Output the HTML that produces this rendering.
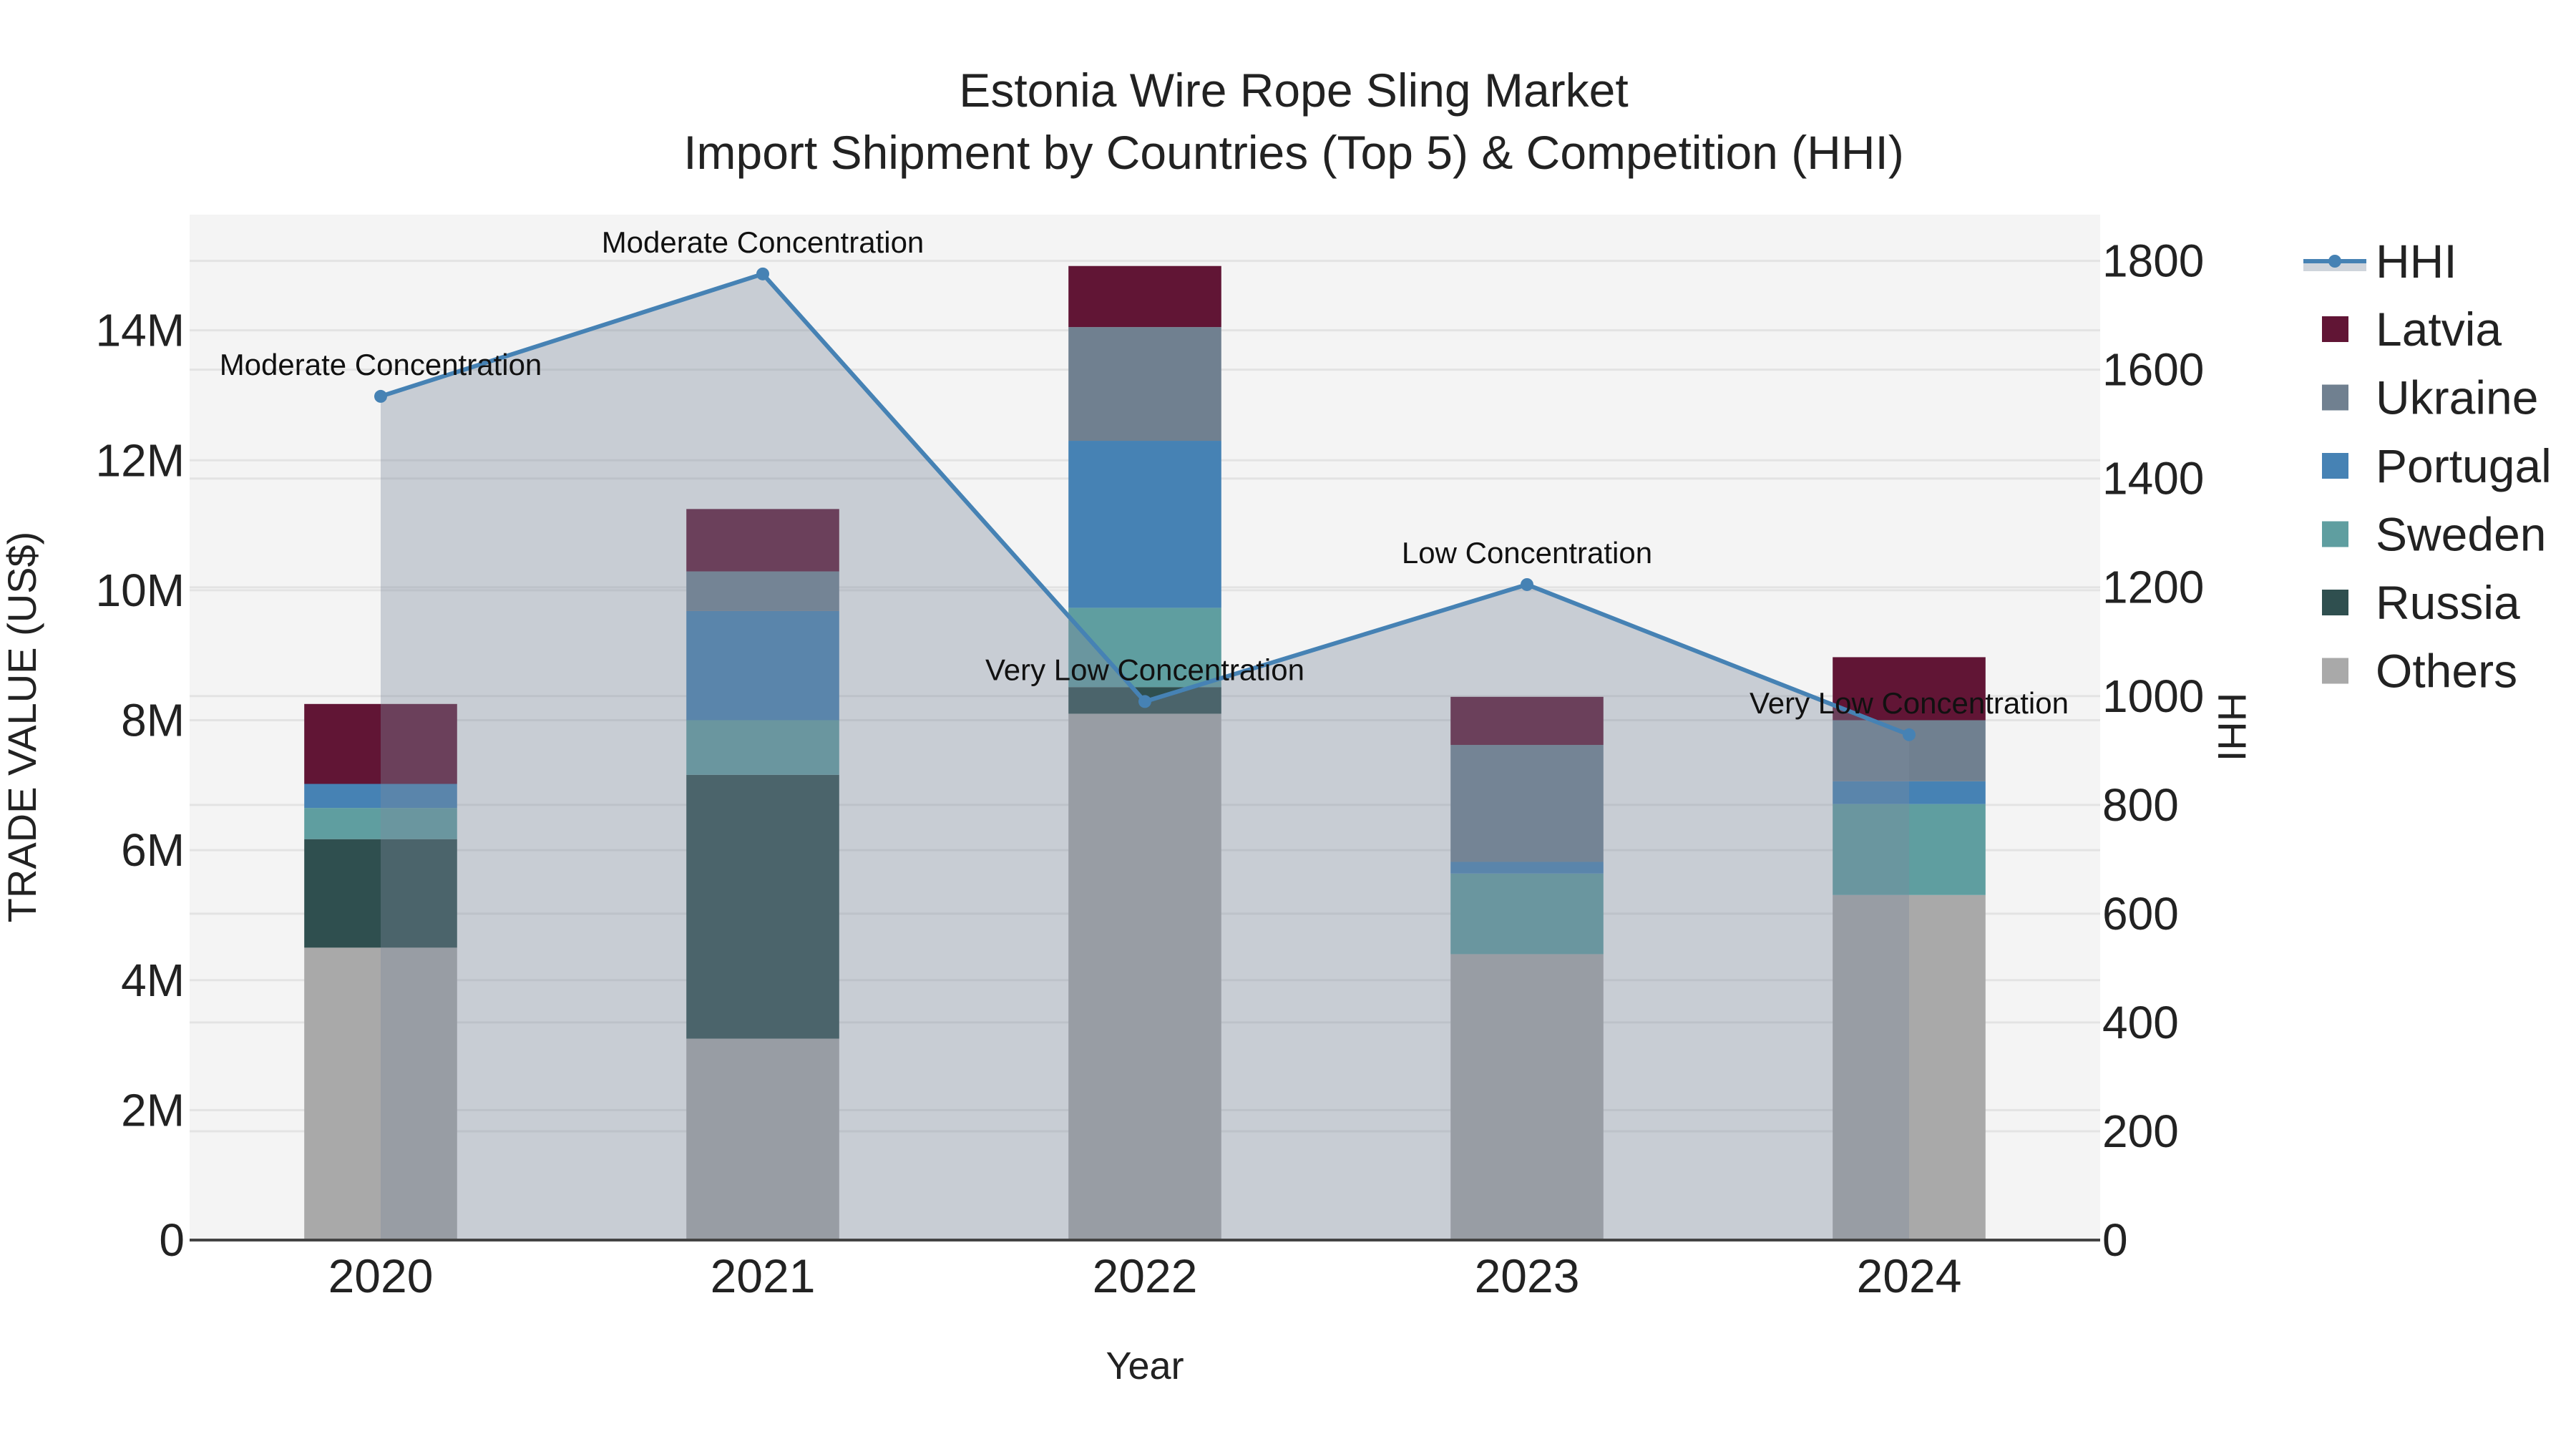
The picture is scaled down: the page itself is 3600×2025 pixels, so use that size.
<!DOCTYPE html>
<html><head><meta charset="utf-8"><style>
html,body{margin:0;padding:0;background:#fff;}
svg{display:block;font-family:"Liberation Sans",sans-serif;}
</style></head><body>
<svg id="chart" width="3600" height="2025" viewBox="0 0 3600 2025" xmlns="http://www.w3.org/2000/svg">
<rect x="0" y="0" width="3600" height="2025" fill="#fff"/>
<text x="1808" y="149" text-anchor="middle" font-size="66" fill="#222">Estonia Wire Rope Sling Market</text>
<text x="1808" y="236" text-anchor="middle" font-size="66" fill="#222">Import Shipment by Countries (Top 5) &amp; Competition (HHI)</text>
<rect x="265" y="300" width="2670" height="1433" fill="#f4f4f4"/>
<g id="grid"></g>
<g id="bars"></g>
<g id="hhi"></g>
<g id="axes"></g>
<text transform="translate(50,1016) rotate(-90)" text-anchor="middle" font-size="56" fill="#222">TRADE VALUE (US$)</text>
<text transform="translate(3100,1016) rotate(90)" text-anchor="middle" font-size="56" fill="#222">HHI</text>
<text x="1600" y="1927" text-anchor="middle" font-size="54" fill="#222">Year</text>
<g id="legend"></g>
</svg>
<script>
const years = ['2020','2021','2022','2023','2024'];
const seriesNames = ['Others','Russia','Sweden','Portugal','Ukraine','Latvia'];
const others = [4.50, 3.10, 8.10, 4.40, 5.31];
const russia = [1.67, 4.06, 0.41, 0, 0];
const sweden = [0.48, 0.84, 1.22, 1.24, 1.40];
const portugal = [0.37, 1.68, 2.57, 0.18, 0.35];
const ukraine = [0, 0.61, 1.75, 1.80, 0.94];
const latvia = [1.23, 0.96, 0.94, 0.74, 0.97];
const hhiValues = [1551, 1776, 990, 1205, 929];
const hhiLabels = ['Moderate Concentration','Moderate Concentration','Very Low Concentration','Low Concentration','Very Low Concentration'];
const leftTicks = [0, 2, 4, 6, 8, 10, 12, 14];
const leftTickLabels = ['0','2M','4M','6M','8M','10M','12M','14M'];
const rightTicks = [0, 200, 400, 600, 800, 1000, 1200, 1400, 1600, 1800];

const NS = 'http://www.w3.org/2000/svg';
const L = 265, R = 2935, T = 300, B = 1733;
const yMax = 15.78, y2Max = 1885;
const band = (R - L) / years.length;
const xS = i => L + band * (i + 0.5);
const yL = v => B - v / yMax * (B - T);
const yR = v => B - v / y2Max * (B - T);
function mk(tag, attrs, parent) {
  const e = document.createElementNS(NS, tag);
  for (const k in attrs) e.setAttribute(k, attrs[k]);
  parent.appendChild(e);
  return e;
}
const grid = document.getElementById('grid');
const axes = document.getElementById('axes');
leftTicks.forEach((t, i) => {
  if (t > 0) {
    const g = mk('line', {x1: L, x2: R, y1: yL(t), y2: yL(t), stroke: '#e3e3e3', 'stroke-width': 3}, grid);
    
    
  }
  const tx = mk('text', {x: 258, y: yL(t) + 22, 'text-anchor': 'end', 'font-size': 64, fill: '#222'}, axes);
  tx.textContent = leftTickLabels[i];
  
  
});
rightTicks.forEach(t => {
  if (t > 0) {
    const g = mk('line', {x1: L, x2: R, y1: yR(t), y2: yR(t), stroke: '#e3e3e3', 'stroke-width': 3}, grid);
    
    
  }
  const tx = mk('text', {x: 2938, y: yR(t) + 22, 'text-anchor': 'start', 'font-size': 64, fill: '#222'}, axes);
  tx.textContent = String(t);
  
  
});
years.forEach((y, i) => {
  const tx = mk('text', {x: xS(i), y: 1806, 'text-anchor': 'middle', 'font-size': 66, fill: '#222'}, axes);
  tx.textContent = y;
  
  
});
const zl = mk('line', {x1: L, x2: R, y1: B, y2: B, stroke: '#444', 'stroke-width': 4}, axes);



const colors = ['#a9a9a9', '#2f4f4f', '#5f9ea0', '#4682b4', '#708090', '#611535'];
const data = [others, russia, sweden, portugal, ukraine, latvia];
const bars = document.getElementById('bars');
const bw = band * 0.4;
years.forEach((y, i) => {
  let base = 0;
  data.forEach((arr, s) => {
    const v = arr[i];
    if (v > 0) {
      const r = mk('rect', {x: xS(i) - bw / 2, y: yL(base + v), width: bw, height: yL(base) - yL(base + v), fill: colors[s]}, bars);
      
      
    }
    base += v;
  });
});

const hhi = document.getElementById('hhi');
let area = 'M' + xS(0) + ',' + B;
hhiValues.forEach((v, i) => { area += ' L' + xS(i) + ',' + yR(v); });
area += ' L' + xS(hhiValues.length - 1) + ',' + B + ' Z';
const ar = mk('path', {d: area, fill: 'rgba(126,137,158,0.37)'}, hhi);


const ln = mk('polyline', {points: hhiValues.map((v, i) => xS(i) + ',' + yR(v)).join(' '), fill: 'none', stroke: '#4682b4', 'stroke-width': 6}, hhi);


hhiValues.forEach((v, i) => {
  const c = mk('circle', {cx: xS(i), cy: yR(v), r: 9, fill: '#4682b4'}, hhi);
  
  
  const a = mk('text', {x: xS(i), y: yR(v) - 30, 'text-anchor': 'middle', 'font-size': 42, fill: '#111'}, hhi);
  a.textContent = hhiLabels[i];
  
  
});

const leg = document.getElementById('legend');
const lg0 = mk('rect', {x: 3219, y: 365, width: 88, height: 14, fill: 'rgba(126,137,158,0.37)'}, leg);


const lg1 = mk('line', {x1: 3219, x2: 3307, y1: 365, y2: 365, stroke: '#4682b4', 'stroke-width': 6}, leg);


const lg2 = mk('circle', {cx: 3263, cy: 365, r: 9, fill: '#4682b4'}, leg);


const lt = mk('text', {x: 3320, y: 388, 'font-size': 66, fill: '#222'}, leg);
lt.textContent = 'HHI';


const legOrder = [5, 4, 3, 2, 1, 0];
legOrder.forEach((s, k) => {
  const cy = 460 + k * 95.5;
  const sq = mk('rect', {x: 3245, y: cy - 18, width: 37, height: 36, fill: colors[s]}, leg);
  
  
  const t = mk('text', {x: 3320, y: cy + 23, 'font-size': 66, fill: '#222'}, leg);
  t.textContent = seriesNames[s];
  
  
});
</script>
</body></html>
